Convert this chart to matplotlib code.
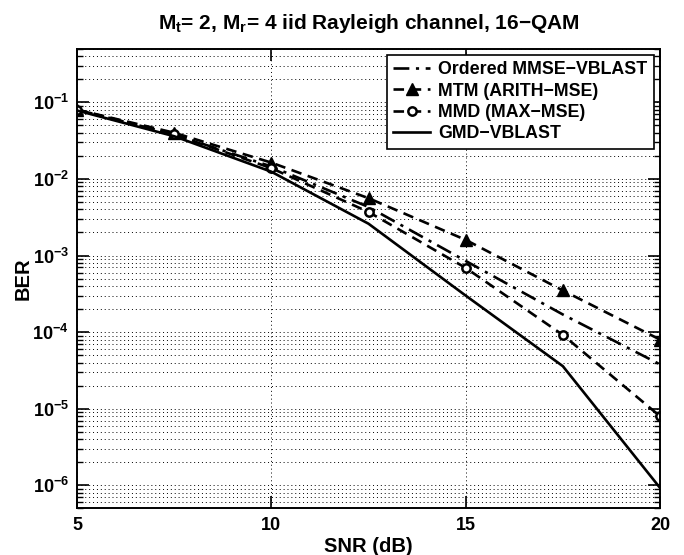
import numpy as np
import matplotlib
matplotlib.use("Agg")
import matplotlib.pyplot as plt
from matplotlib.ticker import LogLocator, FixedLocator, NullFormatter

plt.rcParams['font.family'] = ['Liberation Sans', 'DejaVu Sans']
plt.rcParams['font.weight'] = 'bold'
plt.rcParams['mathtext.fontset'] = 'custom'
plt.rcParams['mathtext.rm'] = 'Liberation Sans:bold'
plt.rcParams['mathtext.it'] = 'Liberation Sans:bold'
plt.rcParams['mathtext.bf'] = 'Liberation Sans:bold'
plt.rcParams['mathtext.sf'] = 'Liberation Sans:bold'

# Data
snr_db = [5, 7.5, 10, 12.5, 15, 17.5, 20]
ber_mmse_vblast = [0.080, 0.038, 0.0145, 0.0043, 8.5e-4, 1.7e-4, 3.8e-5]
ber_mtm = [0.080, 0.040, 0.0163, 0.0056, 1.6e-3, 3.5e-4, 8.0e-5]
ber_mmd = [0.080, 0.038, 0.0138, 0.0037, 6.9e-4, 9.2e-5, 8.0e-6]
ber_gmd = [0.078, 0.036, 0.0124, 0.0026, 3.0e-4, 3.6e-5, 9.3e-7]
x_ticks = [5, 10, 15, 20]
y_ticks = [1e-6, 1e-5, 1e-4, 1e-3, 1e-2, 1e-1]
labels = ['Ordered MMSE\u2212VBLAST', 'MTM (ARITH\u2212MSE)', 'MMD (MAX\u2212MSE)', 'GMD\u2212VBLAST']

fig = plt.figure(figsize=(6.84, 5.55), dpi=100)
ax = fig.add_axes([0.1126, 0.0838, 0.8523, 0.8285])

lw = 1.9
ax.plot(snr_db, ber_mmse_vblast, color='black', lw=lw, linestyle=(0, (6, 2.5, 1.2, 2.5)), label=labels[0])
ax.plot(snr_db, ber_mtm, color='black', lw=lw, linestyle=(0, (4, 2.5)), marker='^', markersize=8,
        markerfacecolor='black', markeredgecolor='black', label=labels[1])
ax.plot(snr_db, ber_mmd, color='black', lw=lw, linestyle=(0, (4, 2.5)), marker='o', markersize=6,
        markerfacecolor='white', markeredgecolor='black', markeredgewidth=1.8, label=labels[2])
ax.plot(snr_db, ber_gmd, color='black', lw=lw, linestyle='-', label=labels[3])

ax.set_yscale('log')
ax.set_xlim(5, 20)
ax.set_ylim(5e-7, 0.5)
ax.xaxis.set_major_locator(FixedLocator(x_ticks))
ax.yaxis.set_major_locator(FixedLocator(y_ticks))
ax.yaxis.set_minor_locator(LogLocator(base=10, subs=np.arange(2, 10), numticks=50))
ax.yaxis.set_minor_formatter(NullFormatter())

ax.grid(True, which='major', axis='both', color='black', linestyle=(0, (1, 3)), linewidth=0.7)
ax.grid(True, which='minor', axis='y', color='black', linestyle=(0, (1, 3)), linewidth=0.7)

ax.tick_params(which='major', direction='in', length=8.5, width=1.2, top=True, right=True,
               labelsize=13, pad=6)
ax.tick_params(which='minor', direction='in', length=4, width=1.0, top=True, right=True)
for s in ax.spines.values():
    s.set_linewidth(1.4)

for lab in ax.get_xticklabels() + ax.get_yticklabels():
    lab.set_fontweight('bold')

ax.set_xlabel('SNR (dB)', fontsize=14.5, fontweight='bold', labelpad=2)
ax.set_ylabel('BER', fontsize=14.5, fontweight='bold', labelpad=0)
ax.set_title(r'M$_\mathrm{t}$= 2, M$_\mathrm{r}$= 4 iid Rayleigh channel, 16$-$QAM',
             fontsize=15, fontweight='bold', pad=14)

leg = ax.legend(loc='upper right', fontsize=12.8, handlelength=2.1, handletextpad=0.45,
                labelspacing=0.25, borderpad=0.35, borderaxespad=0.35, fancybox=False,
                framealpha=1, edgecolor='black')
leg.get_frame().set_linewidth(1.2)
for t in leg.get_texts():
    t.set_fontweight('bold')

fig.savefig('out.png', dpi=100)
